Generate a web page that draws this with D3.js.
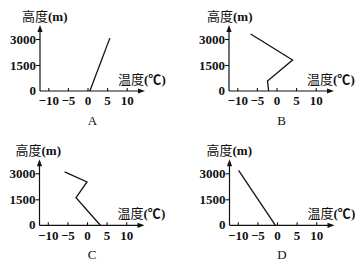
<!DOCTYPE html>
<html>
<head>
<meta charset="utf-8">
<script src="https://cdn.jsdelivr.net/npm/d3@7"></script>
<style>
  html, body { margin: 0; padding: 0; background: #fff; }
  svg { display: block; }
  .num { font-family: "Liberation Serif", "DejaVu Serif", serif; font-size: 13px; font-weight: bold; fill: #111; }
  .letter { font-family: "Liberation Serif", "DejaVu Serif", serif; font-size: 13px; fill: #111; }
  .cjk { font-family: "Noto Sans CJK SC", sans-serif; font-size: 13px; fill: #111; }
  .paren { font-family: "Liberation Serif", serif; font-weight: bold; }
</style>
</head>
<body>
<svg id="chart" width="357" height="274"></svg>
<script>
// Temperature (°C) / altitude (m) profiles, one per panel
const panelNames = ["A", "B", "C", "D"];
const tempTicks = [-10, -5, 0, 5, 10];
const tempTickLabels = ["\u221210", "\u22125", "0", "5", "10"];
const heightTicks = [0, 1500, 3000];
const heightTickLabels = ["0", "1500", "3000"];

const profileA = [[0.6, 0], [5.7, 3050]];
const profileB = [[-2.0, 0], [-2.3, 580], [4.1, 1790], [-6.6, 3290]];
const profileC = [[3.4, 0], [-2.8, 1590], [0.0, 2500], [-5.7, 3080]];
const profileD = [[-0.4, 0], [-9.8, 3170]];
const profiles = [profileA, profileB, profileC, profileD];

// Origin of each panel's axes (px) and the left offset of its height title
const origins = [[40, 91], [229, 91], [39.5, 225.3], [229.5, 225.3]];
const heightTitleDx = [-18, -22, -24, -23];

const svg = d3.select("#chart");

// Shared scales, relative to each panel's origin
const x = d3.scaleLinear().domain([0, 10]).range([47.5, 86.7]);
const y = d3.scaleLinear().domain([0, 3000]).range([0, -52]);
const xAxisLen = 105, yAxisLen = 66;

const line = d3.line().x(d => x(d[0])).y(d => y(d[1]));

panelNames.forEach((name, i) => {
  const [ox, oy] = origins[i];
  const g = svg.append("g").attr("transform", `translate(${ox},${oy})`);

  // Axis lines with arrow heads
  g.append("line").attr("x1", 0).attr("y1", 0).attr("x2", xAxisLen - 5).attr("y2", 0)
    .attr("stroke", "#111").attr("stroke-width", 1.2);
  g.append("path").attr("d", `M${xAxisLen},0 L${xAxisLen - 7},-2.6 L${xAxisLen - 7},2.6 Z`).attr("fill", "#111");
  g.append("line").attr("x1", 0).attr("y1", 0).attr("x2", 0).attr("y2", -yAxisLen + 5)
    .attr("stroke", "#111").attr("stroke-width", 1.2);
  g.append("path").attr("d", `M0,${-yAxisLen} L-2.6,${-yAxisLen + 7} L2.6,${-yAxisLen + 7} Z`).attr("fill", "#111");

  // Temperature ticks (pointing up into the plot)
  const xAxis = d3.axisBottom(x).tickValues(tempTicks).tickSize(-3)
    .tickFormat((d, k) => tempTickLabels[k]);
  const gx = g.append("g").call(xAxis);
  gx.select(".domain").remove();
  gx.selectAll(".tick line").attr("stroke", "#111").attr("stroke-width", 1.1);
  gx.selectAll(".tick text").attr("class", "num").attr("font-size", null).attr("font-family", null)
    .attr("fill", null).attr("y", 5).attr("dy", "0.71em");

  // Height ticks
  const yAxis = d3.axisLeft(y).tickValues(heightTicks.filter(v => v > 0)).tickSize(4)
    .tickFormat(v => heightTickLabels[heightTicks.indexOf(v)]);
  const gy = g.append("g").call(yAxis);
  gy.select(".domain").remove();
  gy.selectAll(".tick line").attr("stroke", "#111").attr("stroke-width", 1.1);
  gy.selectAll(".tick text").attr("class", "num").attr("font-size", null).attr("font-family", null)
    .attr("fill", null).attr("x", -4).attr("dy", "0.35em");
  g.append("text").attr("class", "num").attr("x", -4).attr("y", y(0)).attr("dy", "0.3em")
    .attr("text-anchor", "end").text(heightTickLabels[0]);

  // Axis titles
  const yt = g.append("text").attr("class", "cjk").attr("x", heightTitleDx[i]).attr("y", -70);
  yt.append("tspan").text("高度");
  yt.append("tspan").attr("class", "paren").text("(m)");
  const xt = g.append("text").attr("class", "cjk").attr("x", 78).attr("y", -7);
  xt.append("tspan").text("温度");
  xt.append("tspan").attr("class", "paren").text("(");
  xt.append("tspan").attr("font-weight", "bold").text("℃");
  xt.append("tspan").attr("class", "paren").text(")");

  // Profile line
  g.append("path").datum(profiles[i]).attr("d", line)
    .attr("fill", "none").attr("stroke", "#111").attr("stroke-width", 1.3)
    .attr("stroke-linejoin", "miter");

  // Panel letter
  g.append("text").attr("class", "letter").attr("x", x(0) + 5).attr("y", 34)
    .attr("text-anchor", "middle").text(name);
});
</script>
</body>
</html>
